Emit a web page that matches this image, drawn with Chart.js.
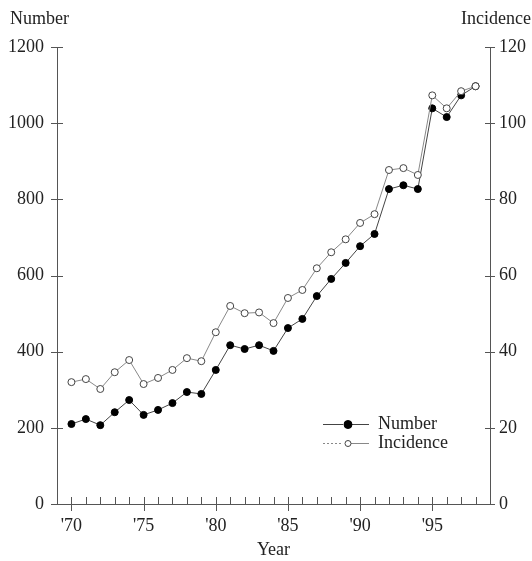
<!DOCTYPE html>
<html>
<head>
<meta charset="utf-8">
<script src="https://cdn.jsdelivr.net/npm/chart.js@4/dist/chart.umd.min.js"></script>
<style>
  html, body { margin: 0; padding: 0; background: #fff; }
  canvas { display: block; }
</style>
</head>
<body>
<canvas id="c" width="532" height="561"></canvas>
<script>
/* Number of cases (left axis) and incidence (right axis) by year, 1970-1998. */
var years = [1970, 1971, 1972, 1973, 1974, 1975, 1976, 1977, 1978, 1979,
             1980, 1981, 1982, 1983, 1984, 1985, 1986, 1987, 1988, 1989,
             1990, 1991, 1992, 1993, 1994, 1995, 1996, 1997, 1998];
var numberVals = [210, 223, 207, 241, 273, 234, 247, 265, 294, 289,
                  352, 417, 407, 417, 402, 462, 486, 546, 591, 633,
                  677, 709, 827, 837, 827, 1039, 1016, 1073, 1097];
var incidenceVals = [32.0, 32.8, 30.2, 34.6, 37.8, 31.5, 33.1, 35.2, 38.3, 37.5,
                     45.1, 52.0, 50.1, 50.3, 47.5, 54.1, 56.2, 61.9, 66.1, 69.5,
                     73.8, 76.1, 87.7, 88.2, 86.4, 107.3, 103.9, 108.4, 109.7];
var yearLabels = { 1970: "'70", 1975: "'75", 1980: "'80", 1985: "'85", 1990: "'90", 1995: "'95" };

var FONT = '"Liberation Serif", "Times New Roman", serif';
var AXIS = '#555';
var TXT = '#222';

function pts(vals) {
  return vals.map(function (v, i) { return { x: years[i], y: v }; });
}

// Tick marks that cross the axis lines, plus the corner titles and legend.
var decor = {
  id: 'decor',
  afterDraw: function (chart) {
    var ctx = chart.ctx, s = chart.scales, area = chart.chartArea;
    ctx.save();
    ctx.strokeStyle = AXIS;
    ctx.lineWidth = 1;
    ctx.beginPath();
    s.y.ticks.forEach(function (t) {
      var py = Math.round(s.y.getPixelForValue(t.value)) + 0.5;
      ctx.moveTo(area.left - 6, py); ctx.lineTo(area.left + 6, py);
    });
    s.y1.ticks.forEach(function (t) {
      var py = Math.round(s.y1.getPixelForValue(t.value)) + 0.5;
      ctx.moveTo(area.right - 5, py); ctx.lineTo(area.right + 5, py);
    });
    s.x.ticks.forEach(function (t) {
      if (t.value < 1970 || t.value > 1998) return;
      var px = Math.round(s.x.getPixelForValue(t.value)) + 0.5;
      var major = t.value % 5 === 0;
      ctx.moveTo(px, area.bottom - 7); ctx.lineTo(px, area.bottom + (major ? 7 : 0));
    });
    ctx.stroke();

    ctx.fillStyle = TXT;
    ctx.font = '18px ' + FONT;
    ctx.textBaseline = 'middle';
    ctx.textAlign = 'left';
    ctx.fillText('Number', 10, 19);
    ctx.textAlign = 'right';
    ctx.fillText('Incidence', 531, 19);

    // legend
    var lx = 323, lw = 46, ty = [424, 443];
    chart.data.datasets.forEach(function (ds, i) {
      var y = ty[i];
      ctx.strokeStyle = ds.borderColor;
      ctx.lineWidth = 1;
      ctx.beginPath();
      if (i === 1) ctx.setLineDash([2, 2]);
      ctx.moveTo(lx, y + 0.5); ctx.lineTo(lx + 20, y + 0.5);
      ctx.stroke();
      ctx.setLineDash([]);
      ctx.beginPath();
      ctx.moveTo(lx + 28, y + 0.5); ctx.lineTo(lx + lw, y + 0.5);
      ctx.stroke();
      ctx.beginPath();
      ctx.arc(lx + 25, y + 0.5, i === 0 ? 4 : 3, 0, Math.PI * 2);
      ctx.fillStyle = ds.pointBackgroundColor;
      ctx.fill();
      ctx.strokeStyle = ds.pointBorderColor;
      ctx.stroke();
      ctx.fillStyle = TXT;
      ctx.textAlign = 'left';
      ctx.fillText(ds.label, 378, y);
    });
    ctx.restore();
  }
};

new Chart(document.getElementById('c'), {
  type: 'line',
  data: {
    datasets: [{
      label: 'Number',
      data: pts(numberVals),
      yAxisID: 'y',
      borderColor: '#444',
      borderWidth: 1,
      pointRadius: 3.5,
      pointBackgroundColor: '#000',
      pointBorderColor: '#000',
      pointBorderWidth: 1,
      order: 2
    }, {
      label: 'Incidence',
      data: pts(incidenceVals),
      yAxisID: 'y1',
      borderColor: '#888',
      borderWidth: 1,
      pointRadius: 3.5,
      pointBackgroundColor: '#fff',
      pointBorderColor: '#444',
      pointBorderWidth: 1,
      order: 1
    }]
  },
  options: {
    responsive: false,
    animation: false,
    devicePixelRatio: 1,
    layout: { padding: { top: 47, left: 0, right: 0, bottom: 0 } },
    plugins: { legend: { display: false }, tooltip: { enabled: false } },
    scales: {
      x: {
        type: 'linear', min: 1969, max: 1999,
        afterFit: function (sc) { sc.height = 57; },
        grid: { display: false, drawTicks: false },
        border: { display: true, color: AXIS, width: 1 },
        ticks: {
          stepSize: 1, autoSkip: false, maxRotation: 0, padding: 11,
          color: TXT, font: { family: FONT, size: 18 },
          callback: function (v) { return yearLabels[v] || ''; }
        },
        title: { display: true, text: 'Year', color: TXT, font: { family: FONT, size: 18 }, padding: { top: 0, bottom: 0 } }
      },
      y: {
        position: 'left', min: 0, max: 1200,
        afterFit: function (sc) { sc.width = 57; },
        grid: { display: false, drawTicks: false },
        border: { display: true, color: AXIS, width: 1 },
        ticks: {
          stepSize: 200, padding: 13, color: TXT, font: { family: FONT, size: 18 },
          callback: function (v) { return String(v); }
        }
      },
      y1: {
        position: 'right', min: 0, max: 120,
        afterFit: function (sc) { sc.width = 42; },
        grid: { display: false, drawTicks: false },
        border: { display: true, color: AXIS, width: 1 },
        ticks: {
          stepSize: 20, padding: 9, color: TXT, font: { family: FONT, size: 18 },
          callback: function (v) { return String(v); }
        }
      }
    }
  },
  plugins: [decor]
});
</script>
</body>
</html>
